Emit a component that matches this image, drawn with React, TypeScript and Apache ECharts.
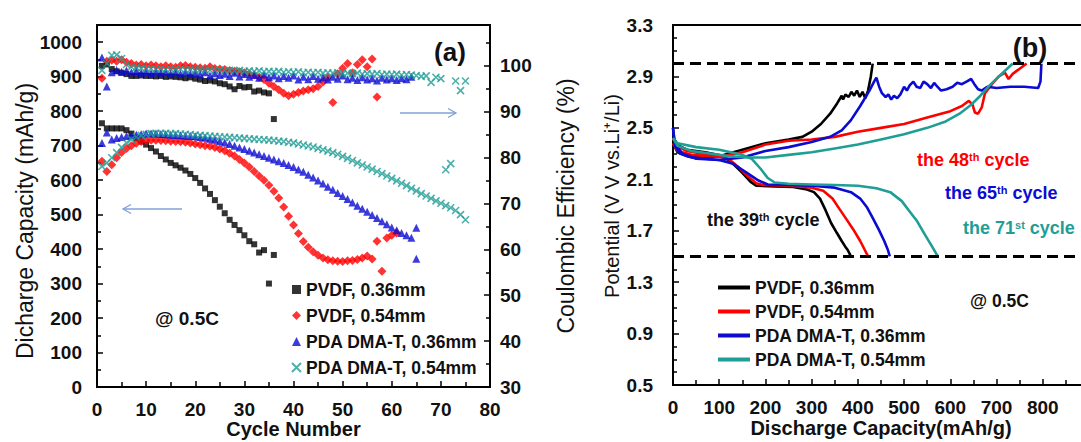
import React, { useEffect, useRef } from "react";
import * as echarts from "echarts";

const FONT = 'Arial, "Liberation Sans", Helvetica, sans-serif';

// ---------- Panel (a): cycling data (index 0 = cycle 1) ----------
const legendNames = ["PVDF, 0.36mm", "PVDF, 0.54mm", "PDA DMA-T, 0.36mm", "PDA DMA-T, 0.54mm"];
const colors = ["#000000", "#ff0000", "#0b0bd2", "#1f9e96"];

const pvdf036Capacity = [765, 750, 750, 750, 750, 745, 735, 722, 712, 703, 693, 683, 670, 660, 650, 643, 636, 628, 618, 606, 592, 576, 560, 542, 523, 504, 485, 470, 455, 440, 423, 414, 390, 397, 300, 383];
const pvdf036CE = [100.0, 100.3, 99.3, 98.8, 98.5, 98.2, 97.8, 97.8, 97.9, 97.8, 97.8, 97.7, 97.8, 97.6, 97.7, 97.6, 97.5, 97.3, 97.5, 97.2, 97.0, 96.7, 96.8, 96.6, 96.2, 96.0, 95.5, 94.9, 95.6, 95.3, 95.4, 94.4, 94.6, 94.2, 94.0, 88.4];

const pvdf054Capacity = [655, 625, 645, 665, 680, 692, 700, 707, 712, 715, 716, 716, 715, 714, 713, 712, 711, 710, 708, 705, 703, 700, 698, 695, 690, 685, 678, 670, 660, 650, 638, 625, 612, 600, 585, 568, 548, 522, 495, 470, 445, 422, 405, 392, 382, 374, 369, 366, 365, 364, 366, 367, 370, 374, 380, 371, 423, 336, 432, 440, 447];
const pvdf054CE = [97.3, 101.0, 101.2, 101.0, 101.3, 100.8, 100.5, 100.2, 100.3, 100.0, 100.2, 100.0, 99.8, 100.0, 99.8, 99.7, 100.0, 100.1, 99.8, 99.7, 99.6, 99.5, 99.8, 99.4, 99.3, 99.2, 99.0, 98.8, 98.7, 98.5, 98.3, 98.0, 97.5, 97.0, 96.2, 95.5, 94.8, 94.0, 93.5, 93.8, 94.2, 94.5, 94.8, 95.0, 95.5, 96.5, 97.5, 92.0, 98.3, 99.5, 100.5, 98.5, 100.3, 101.3, 99.8, 101.5, 93.2];

const pda036Capacity = [708, 738, 718, 722, 725, 728, 730, 732, 733, 735, 735, 735, 734, 733, 732, 731, 730, 729, 728, 727, 725, 723, 720, 717, 713, 709, 705, 700, 695, 690, 685, 680, 675, 670, 665, 660, 655, 650, 644, 638, 631, 624, 616, 608, 599, 590, 581, 572, 563, 554, 545, 535, 526, 517, 508, 499, 490, 481, 472, 463, 455, 447, 440, 433, 462];
const pda036CapacityExtra = [[65, 372]];
const pda036CE = [101.8, 95.5, 98.6, 99.1, 98.7, 99.0, 98.6, 98.9, 98.5, 98.8, 98.4, 98.8, 98.5, 98.7, 98.3, 98.6, 98.3, 98.6, 98.2, 98.5, 98.1, 98.6, 97.9, 98.4, 98.0, 98.3, 97.8, 98.5, 97.7, 98.2, 97.6, 98.0, 97.4, 98.1, 97.5, 97.9, 97.3, 97.8, 97.4, 97.9, 97.0, 97.6, 97.1, 97.8, 97.2, 97.5, 97.0, 97.6, 97.2, 97.9, 97.1, 97.4, 96.9, 97.5, 97.0, 97.3, 96.8, 97.4, 97.0, 97.3, 96.9, 97.3, 97.1, 97.6];

const pda054Capacity = [640, 650, 665, 680, 695, 708, 718, 725, 730, 733, 735, 736, 736, 736, 735, 735, 734, 733, 732, 731, 730, 729, 728, 727, 726, 725, 724, 723, 722, 721, 720, 719, 718, 717, 716, 715, 713, 712, 710, 708, 705, 702, 699, 696, 692, 688, 684, 680, 675, 669, 663, 657, 650, 644, 638, 632, 625, 619, 612, 605, 598, 591, 584, 576, 569, 561, 554, 547, 540, 533, 526, 520, 512, 500, 485];
const pda054CapacityExtra = [[71, 630], [72, 648]];
const pda054CE = [99.0, 100.5, 102.3, 102.4, 101.6, 100.3, 99.8, 99.6, 99.5, 99.4, 99.4, 99.3, 99.4, 99.2, 99.3, 99.2, 99.3, 99.1, 99.2, 99.0, 99.2, 99.0, 99.1, 99.0, 99.1, 98.9, 99.0, 98.9, 99.0, 98.8, 98.9, 98.8, 98.9, 98.7, 98.8, 98.7, 98.8, 98.6, 98.7, 98.6, 98.7, 98.5, 98.6, 98.5, 98.6, 98.4, 98.5, 98.4, 98.5, 98.3, 98.4, 98.3, 98.4, 98.2, 98.3, 98.2, 98.3, 98.1, 98.2, 98.1, 98.2, 98.0, 98.1, 98.0, 97.9, 97.7, 97.8, 96.4, 97.5, 97.2, null, null, 96.7, 94.6, 96.7];

// ---------- Panel (b): voltage profiles [capacity mAh/g, V] ----------
const pvdf036Discharge = [[0, 2.43], [8, 2.37], [30, 2.33], [70, 2.31], [110, 2.28], [130, 2.22], [150, 2.15], [168, 2.08], [180, 2.05], [220, 2.045], [260, 2.04], [290, 2.02], [305, 2.0], [318, 1.95], [330, 1.86], [342, 1.76], [355, 1.68], [365, 1.62], [372, 1.58], [378, 1.55], [385, 1.5]];
const pvdf036Charge = [[0, 2.38], [10, 2.31], [30, 2.28], [60, 2.27], [100, 2.28], [150, 2.33], [200, 2.38], [250, 2.41], [280, 2.43], [300, 2.47], [320, 2.53], [340, 2.61], [355, 2.69], [365, 2.75], [368, 2.72], [373, 2.76], [380, 2.74], [386, 2.78], [392, 2.75], [398, 2.79], [404, 2.74], [410, 2.78], [416, 2.73], [422, 2.79], [428, 2.9], [432, 3.0]];
const pvdf054Discharge = [[0, 2.42], [8, 2.36], [30, 2.32], [80, 2.29], [120, 2.26], [140, 2.2], [160, 2.13], [180, 2.07], [195, 2.055], [250, 2.05], [300, 2.035], [325, 2.01], [345, 1.95], [360, 1.87], [375, 1.79], [390, 1.71], [405, 1.62], [415, 1.55], [422, 1.5]];
const pvdf054Charge = [[0, 2.38], [10, 2.32], [40, 2.29], [80, 2.28], [110, 2.28], [150, 2.31], [200, 2.37], [250, 2.4], [300, 2.41], [350, 2.43], [400, 2.47], [450, 2.5], [500, 2.53], [550, 2.58], [600, 2.63], [625, 2.67], [640, 2.71], [648, 2.68], [653, 2.62], [660, 2.61], [668, 2.66], [675, 2.77], [690, 2.84], [705, 2.9], [718, 2.93], [726, 2.88], [735, 2.92], [750, 2.96], [765, 3.0]];
const pda036Discharge = [[0, 2.5], [4, 2.36], [15, 2.3], [40, 2.27], [100, 2.25], [130, 2.22], [160, 2.15], [185, 2.09], [205, 2.06], [250, 2.055], [300, 2.05], [350, 2.035], [385, 2.0], [405, 1.95], [420, 1.88], [432, 1.8], [445, 1.71], [457, 1.62], [465, 1.55], [469, 1.5]];
const pda036Charge = [[0, 2.5], [4, 2.38], [20, 2.3], [50, 2.26], [100, 2.25], [150, 2.27], [200, 2.32], [250, 2.35], [300, 2.39], [340, 2.43], [365, 2.48], [385, 2.56], [405, 2.67], [425, 2.79], [435, 2.86], [440, 2.89], [446, 2.82], [452, 2.77], [460, 2.74], [466, 2.76], [472, 2.72], [478, 2.75], [485, 2.73], [492, 2.76], [500, 2.82], [506, 2.79], [512, 2.83], [520, 2.86], [527, 2.82], [535, 2.81], [542, 2.86], [550, 2.84], [558, 2.81], [565, 2.85], [572, 2.82], [580, 2.79], [592, 2.8], [605, 2.82], [615, 2.85], [625, 2.84], [635, 2.86], [645, 2.88], [652, 2.84], [660, 2.8], [668, 2.79], [680, 2.82], [700, 2.81], [730, 2.82], [760, 2.82], [790, 2.81], [795, 2.86], [797, 3.0]];
const pda054Discharge = [[0, 2.42], [10, 2.38], [50, 2.35], [100, 2.33], [150, 2.29], [170, 2.26], [190, 2.18], [205, 2.11], [220, 2.075], [250, 2.065], [300, 2.06], [350, 2.055], [400, 2.05], [440, 2.03], [470, 2.0], [495, 1.93], [512, 1.85], [527, 1.78], [545, 1.67], [560, 1.58], [573, 1.5]];
const pda054Charge = [[0, 2.42], [10, 2.36], [40, 2.32], [80, 2.3], [120, 2.28], [160, 2.27], [200, 2.27], [250, 2.29], [300, 2.31], [350, 2.34], [400, 2.37], [450, 2.41], [500, 2.45], [550, 2.5], [590, 2.55], [620, 2.61], [645, 2.68], [665, 2.75], [685, 2.83], [705, 2.9], [720, 2.95], [735, 3.0]];
const cutoffVoltages = [3.0, 1.5];

const cycleLabels = [
  { text: "the 39{s|th} cycle", color: "#111111" },
  { text: "the 48{s|th} cycle", color: "#ff0000" },
  { text: "the 65{s|th} cycle", color: "#0b0bd2" },
  { text: "the 71{s|st} cycle", color: "#1f9e96" },
];

const toPairs = (arr: (number | null)[], extra: number[][] = []) =>
  arr.map((v, i) => (v == null ? null : [i + 1, v])).filter((p) => p !== null).concat(extra as any);

export default function App() {
  const ref = useRef<HTMLDivElement>(null);
  useEffect(() => {
    if (!ref.current) return;
    const chart = echarts.init(ref.current, undefined, { renderer: "svg" });
    const crossPath = "path://M0,0L10,10M10,0L0,10";
    const symbols = ["rect", "diamond", "triangle", crossPath];
    const sizes = [6, 9, 8, 7];
    const caps = [toPairs(pvdf036Capacity), toPairs(pvdf054Capacity), toPairs(pda036Capacity, pda036CapacityExtra), toPairs(pda054Capacity, pda054CapacityExtra)];
    const ces = [toPairs(pvdf036CE), toPairs(pvdf054CE), toPairs(pda036CE), toPairs(pda054CE)];
    const dis = [pvdf036Discharge, pvdf054Discharge, pda036Discharge, pda054Discharge];
    const chg = [pvdf036Charge, pvdf054Charge, pda036Charge, pda054Charge];

    const scatterStyle = (i: number) =>
      i === 3
        ? { color: colors[i], borderColor: colors[i], borderWidth: 1.6 }
        : { color: colors[i] };

    const series: any[] = [];
    for (let i = 0; i < 4; i++) {
      series.push({
        name: legendNames[i], type: "scatter", xAxisIndex: 0, yAxisIndex: 0,
        data: caps[i], symbol: symbols[i], symbolSize: sizes[i], itemStyle: scatterStyle(i),
      });
    }
    for (let i = 0; i < 4; i++) {
      series.push({
        name: legendNames[i], type: "scatter", xAxisIndex: 0, yAxisIndex: 1,
        data: ces[i], symbol: symbols[i], symbolSize: sizes[i], itemStyle: scatterStyle(i),
      });
    }
    for (let i = 0; i < 4; i++) {
      for (const [k, d] of [dis[i], chg[i]].entries()) {
        const s: any = {
          name: "b:" + legendNames[i], type: "line", xAxisIndex: 1, yAxisIndex: 2,
          data: d, symbol: "none", showSymbol: false,
          lineStyle: { color: colors[i], width: 2.6 }, itemStyle: { color: colors[i] },
        };
        if (i === 0 && k === 0) {
          s.markLine = {
            silent: true, symbol: ["none", "none"], label: { show: false },
            lineStyle: { color: "#000", width: 3, type: [11, 6] },
            data: cutoffVoltages.map((v) => ({ yAxis: v })),
          };
        }
        series.push(s);
      }
    }

    const labelStyle = { fontSize: 19, fontWeight: "bold", color: "#111", fontFamily: FONT };
    const tick = { inside: true, length: 6, lineStyle: { color: "#000", width: 1.5 } };
    const axisLine = { show: true, lineStyle: { color: "#000", width: 2 } };
    const nameStyleX = { fontSize: 20, fontWeight: "bold", color: "#111", fontFamily: FONT };
    const nameStyleY = { fontSize: 23, fontWeight: "normal", color: "#111", fontFamily: FONT };

    const option: any = {
      animation: false,
      backgroundColor: "#ffffff",
      grid: [
        { left: 97, top: 25, width: 393, height: 362, show: true, borderColor: "#000", borderWidth: 2, outerBoundsMode: "none", containLabel: false },
        { left: 673, top: 25, width: 416, height: 360, show: true, borderColor: "#000", borderWidth: 2, outerBoundsMode: "none", containLabel: false },
      ],
      xAxis: [
        {
          gridIndex: 0, type: "value", min: 0, max: 80, interval: 10,
          axisLine, axisTick: tick, minorTick: { show: true, splitNumber: 2, length: 5, lineStyle: { color: "#000", width: 1.5 } },
          splitLine: { show: false }, axisLabel: { ...labelStyle, margin: 13 },
          name: "Cycle Number", nameLocation: "middle", nameGap: 32, nameMoveOverlap: false, nameTextStyle: nameStyleX,
        },
        {
          gridIndex: 1, type: "value", min: 0, max: 900, interval: 100,
          axisLine, axisTick: tick, minorTick: { show: true, splitNumber: 2, length: 5, lineStyle: { color: "#000", width: 1.5 } },
          splitLine: { show: false },
          axisLabel: { ...labelStyle, margin: 13, formatter: (v: number) => (v <= 800 ? String(v) : "") },
          name: "Discharge Capacity(mAh/g)", nameLocation: "middle", nameGap: 33, nameMoveOverlap: false, nameTextStyle: nameStyleX,
        },
      ],
      yAxis: [
        {
          gridIndex: 0, type: "value", min: 0, max: 1050, interval: 100, position: "left",
          axisLine, axisTick: tick, minorTick: { show: true, splitNumber: 2, length: 4, lineStyle: { color: "#000", width: 1.5 } },
          splitLine: { show: false },
          axisLabel: { ...labelStyle, margin: 15, formatter: (v: number) => (v % 100 === 0 ? String(v) : "") },
          name: "Dicharge Capacity (mAh/g)", nameLocation: "middle", nameGap: 61, nameRotate: 90, nameMoveOverlap: false,
          nameTextStyle: { ...nameStyleY, padding: [0, 30, 0, 0] },
        },
        {
          gridIndex: 0, type: "value", min: 30, max: 108.9, interval: 10, position: "right",
          axisLine, axisTick: tick, minorTick: { show: true, splitNumber: 2, length: 4, lineStyle: { color: "#000", width: 1.5 } },
          splitLine: { show: false },
          axisLabel: { ...labelStyle, margin: 10, formatter: (v: number) => (Math.abs(v % 10) < 1e-6 ? String(Math.round(v)) : "") },
          name: "Coulombic Efficiency (%)", nameLocation: "middle", nameGap: 64, nameRotate: 90, nameMoveOverlap: false,
          nameTextStyle: nameStyleY,
        },
        {
          gridIndex: 1, type: "value", min: 0.5, max: 3.3, interval: 0.4,
          axisLine, axisTick: tick, minorTick: { show: true, splitNumber: 4, length: 4, lineStyle: { color: "#000", width: 1.5 } },
          splitLine: { show: false },
          axisLabel: {
            ...labelStyle, margin: 20,
            formatter: (v: number) => {
              const k = (v - 0.5) / 0.4;
              return Math.abs(k - Math.round(k)) < 1e-6 ? v.toFixed(1) : "";
            },
          },
          name: "Potential (V V vs.Li\u207A/Li)", nameLocation: "middle", nameGap: 51, nameRotate: 90, nameMoveOverlap: false,
          nameTextStyle: { ...nameStyleY, fontSize: 20, padding: [0, 0, 0, 18] },
        },
      ],
      legend: [
        {
          data: legendNames, orient: "vertical", left: 286, top: 275, itemWidth: 9, itemHeight: 9, itemGap: 7,
          textStyle: { fontSize: 17.5, fontWeight: "bold", color: "#111", fontFamily: FONT, lineHeight: 19 },
        },
        {
          data: legendNames.map((n) => "b:" + n), orient: "vertical", left: 713, top: 273, itemWidth: 32, itemHeight: 4, itemGap: 5,
          icon: "rect",
          formatter: (n: string) => n.replace(/^b:/, ""),
          textStyle: { fontSize: 17.5, fontWeight: "bold", color: "#111", fontFamily: FONT, lineHeight: 19 },
        },
      ],
      graphic: [
        { type: "text", x: 450, y: 52, z: 10, style: { text: "(a)", fontSize: 26, fontWeight: "bold", fontFamily: FONT, fill: "#111", align: "center", verticalAlign: "middle" } },
        { type: "text", x: 1030, y: 48, z: 0, style: { text: "(b)", fontSize: 27, fontWeight: "bold", fontFamily: FONT, fill: "#111", align: "center", verticalAlign: "middle" } },
        { type: "text", x: 155, y: 318, style: { text: "@ 0.5C", fontSize: 19, fontWeight: "bold", fontFamily: FONT, fill: "#111", align: "left", verticalAlign: "middle" } },
        { type: "text", x: 970, y: 301, style: { text: "@ 0.5C", fontSize: 17.5, fontWeight: "bold", fontFamily: FONT, fill: "#111", align: "left", verticalAlign: "middle" } },
        ...cycleLabels.map((c, i) => ({
          type: "text",
          x: [707, 917, 945, 963][i],
          y: [220, 160, 193, 228][i],
          style: {
            text: c.text, fontSize: 18, fontWeight: "bold", fontFamily: FONT, fill: c.color,
            align: "left", verticalAlign: "middle",
            rich: { s: { fontSize: 11, fontWeight: "bold", fontFamily: FONT, fill: c.color, verticalAlign: "top", padding: [0, 0, 6, 0] } },
          },
        })),
        { type: "line", shape: { x1: 182, y1: 209, x2: 123, y2: 209 }, style: { stroke: "#7fa2d4", lineWidth: 1.3 } },
        { type: "polyline", shape: { points: [[131, 204.5], [123, 209], [131, 213.5]] }, style: { stroke: "#7fa2d4", lineWidth: 1.3, fill: null } },
        { type: "line", shape: { x1: 400, y1: 113, x2: 456, y2: 113 }, style: { stroke: "#7fa2d4", lineWidth: 1.3 } },
        { type: "polyline", shape: { points: [[448, 108.5], [456, 113], [448, 117.5]] }, style: { stroke: "#7fa2d4", lineWidth: 1.3, fill: null } },
      ],
      series,
    };
    chart.setOption(option);
    return () => chart.dispose();
  }, []);
  return (
    <div
      ref={ref}
      style={{ position: "fixed", left: 0, top: 0, width: 1081, height: 442, background: "#ffffff" }}
    />
  );
}
